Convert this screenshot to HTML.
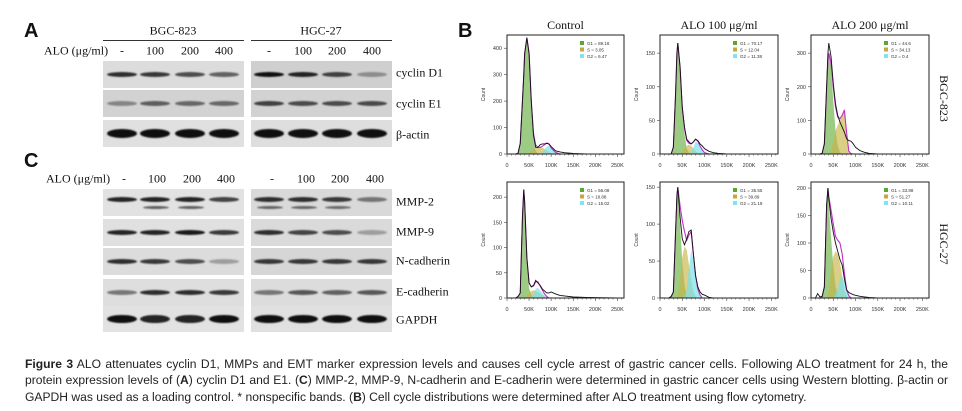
<!DOCTYPE html>
<html><head><meta charset="utf-8">
<style>
body{margin:0;background:#fff;width:962px;height:411px;overflow:hidden;position:relative;font-family:"Liberation Serif",serif;color:#111}
.abs{position:absolute}
.lbl{position:absolute;font-size:12px;white-space:nowrap;transform:translate(-50%,-50%)}
.rl{position:absolute;font-size:12px;white-space:nowrap;transform:translateY(-50%)}
.blot{position:absolute;overflow:hidden}
.band{position:absolute;border-radius:50%;filter:blur(0.8px)}
.pl{position:absolute;font-family:"Liberation Sans",sans-serif;font-weight:bold;font-size:20px}
#caption{position:absolute;left:25px;top:356px;width:923px;font-family:"Liberation Sans",sans-serif;font-size:12.1px;line-height:16.4px;text-align:justify;text-align-last:left;color:#222}
</style></head><body>
<div class="pl" style="left:24px;top:20px">A</div>
<div class="pl" style="left:24px;top:150px">C</div>
<div class="pl" style="left:458px;top:20px">B</div>

<div class="lbl" style="left:173px;top:31px">BGC-823</div>
<div class="lbl" style="left:321px;top:31px">HGC-27</div>
<div class="abs" style="left:103px;top:40px;width:141px;height:1px;background:#333"></div>
<div class="abs" style="left:251px;top:40px;width:141px;height:1px;background:#333"></div>

<div id="blots"></div>
<svg id="flow" width="962" height="411" style="position:absolute;left:0;top:0"></svg>

<div id="caption"><b>Figure 3</b> ALO attenuates cyclin D1, MMPs and EMT marker expression levels and causes cell cycle arrest of gastric cancer cells. Following ALO treatment for 24 h, the protein expression levels of (<b>A</b>) cyclin D1 and E1. (<b>C</b>) MMP-2, MMP-9, N-cadherin and E-cadherin were determined in gastric cancer cells using Western blotting. β-actin or GAPDH was used as a loading control. * nonspecific bands. (<b>B</b>) Cell cycle distributions were determined after ALO treatment using flow cytometry.</div>

<script>
// ---------- Western blot data ----------
const doses=["-","100","200","400"];
const blotNames=["cyclin D1","cyclin E1","β-actin","MMP-2","MMP-9","N-cadherin","E-cadherin","GAPDH"];
const blotTops=[61,90,120,189,219,248,279,306];
const bgcIntensity=[[0.85,0.8,0.7,0.6],[0.4,0.6,0.55,0.55],[1,1,1,1],[0.9,0.9,0.9,0.75],[0.9,0.9,0.95,0.8],[0.85,0.8,0.7,0.3],[0.5,0.85,0.85,0.8],[1,0.9,0.9,1]];
const hgcIntensity=[[1,0.9,0.75,0.35],[0.75,0.7,0.7,0.7],[1,1,1,1],[0.85,0.85,0.8,0.5],[0.85,0.75,0.7,0.3],[0.8,0.8,0.8,0.8],[0.5,0.65,0.6,0.65],[1,1,1,1]];
const blotBg=["#dcdcdc","#d2d2d2","#e0e0e0","#e2e2e2","#e0e0e0","#dcdcdc","#dedede","#e2e2e2"];
const hgcBg=["#cfcfcf","#d2d2d2","#dedede","#d9d9d9","#dadada","#d6d6d6","#dcdcdc","#e0e0e0"];
const labelY=[73,104,135,202,232,261,292,320];
const thick=[5,5,9,5,5,5,5,8];

const B=document.getElementById('blots');
function addText(txt,x,y,cls,name){
  const d=document.createElement('div');d.className=cls;d.textContent=txt;d.style.left=x+'px';d.style.top=y+'px';
  
  
  B.appendChild(d);
}
addText("ALO (μg/ml)",44,51,'rl','alo-dose-label-a');
addText("ALO (μg/ml)",46,179,'rl','alo-dose-label-c');
const bgcLanes=[122,155,190,224],hgcLanes=[269,303,337,372];
doses.forEach((d,i)=>{
  addText(d,bgcLanes[i],51,'lbl','dose-a-bgc-'+i);
  addText(d,hgcLanes[i],51,'lbl','dose-a-hgc-'+i);
  addText(d,bgcLanes[i]+2,179,'lbl','dose-c-bgc-'+i);
  addText(d,hgcLanes[i]+3,179,'lbl','dose-c-hgc-'+i);
});
blotNames.forEach((n,r)=>{
  addText(n,396,labelY[r],'rl','blot-label-'+n.replace(/[^a-zA-Z0-9]+/g,'-').toLowerCase());
  [[103,bgcIntensity,blotBg,bgcLanes],[251,hgcIntensity,hgcBg,hgcLanes]].forEach(([x0,I,bg,lanes],k)=>{
    const bl=document.createElement('div');bl.className='blot';
    bl.style.left=x0+'px';bl.style.top=blotTops[r]+'px';bl.style.width='141px';bl.style.height=(r==7?26:27)+'px';bl.style.background=bg[r];
    
    
    I[r].forEach((v,i)=>{
      const b=document.createElement('div');b.className='band';
      const w=30,h=thick[r];
      b.style.left=(lanes[i]-x0-w/2)+'px';b.style.top=(13-h/2+(r==3?-3:0))+'px';
      b.style.width=w+'px';b.style.height=h+'px';
      b.style.background='rgba(15,15,15,'+v+')';
      
      
      bl.appendChild(b);
      if(r==3&&i<3&&(k==1||i>0)){
        const b2=document.createElement('div');b2.className='band';
        b2.style.left=(lanes[i]-x0-12)+'px';b2.style.top='17px';b2.style.width='26px';b2.style.height='3px';
        b2.style.background='rgba(20,20,20,'+(v*0.7)+')';
        
        
        bl.appendChild(b2);
      }
    });
    B.appendChild(bl);
  });
});

// ---------- Flow cytometry data ----------
const xK=[0,10,15,20,25,30,35,38,40,45,50,55,60,65,70,75,80,85,90,95,100,110,120,130,150,180,250];
const bgcCtrlTotal=[0,0,0,0,3,40,200,300,380,440,380,200,70,25,25,35,38,38,40,38,28,12,8,5,2,0,0];
const bgcCtrlG1=[0,0,0,0,3,40,200,300,380,440,380,190,60,12,2,0,0,0,0,0,0,0,0,0,0,0,0];
const bgcCtrlS=[0,0,0,0,0,0,0,0,0,0,2,10,18,22,24,25,24,20,14,8,3,0,0,0,0,0,0];
const bgcCtrlG2=[0,0,0,0,0,0,0,0,0,0,0,0,0,0,0,0,5,15,28,30,20,6,0,0,0,0,0];
const bgc100Total=[0,0,0,0,0,10,90,150,165,130,70,40,22,18,15,18,22,20,15,12,8,4,2,1,0,0,0];
const bgc100G1=[0,0,0,0,0,10,90,150,165,130,65,30,8,2,0,0,0,0,0,0,0,0,0,0,0,0,0];
const bgc100S=[0,0,0,0,0,0,0,0,0,0,3,8,12,14,12,8,4,2,0,0,0,0,0,0,0,0,0];
const bgc100G2=[0,0,0,0,0,0,0,0,0,0,0,0,0,0,3,10,18,17,12,6,2,0,0,0,0,0,0];
const bgc200Total=[0,0,0,0,2,30,200,300,330,290,210,150,115,95,80,65,45,40,38,30,20,10,5,2,0,0,0];
const bgc200G1=[0,0,0,0,2,30,190,280,300,260,160,70,25,5,0,0,0,0,0,0,0,0,0,0,0,0,0];
const bgc200S=[0,0,0,0,0,0,0,0,0,10,40,70,85,100,115,130,60,5,0,0,0,0,0,0,0,0,0];
const bgc200G2=[0,0,0,0,0,0,0,0,0,0,0,0,0,0,0,1,3,3,1,0,0,0,0,0,0,0,0];
const hgcCtrlTotal=[0,0,0,0,3,10,160,215,190,80,30,22,25,35,30,25,18,14,10,10,12,8,5,4,2,1,0];
const hgcCtrlG1=[0,0,0,0,3,10,160,215,190,75,20,6,1,0,0,0,0,0,0,0,0,0,0,0,0,0,0];
const hgcCtrlS=[0,0,0,0,0,0,0,0,0,4,10,14,15,14,12,9,6,3,1,0,0,0,0,0,0,0,0];
const hgcCtrlG2=[0,0,0,0,0,0,0,0,0,0,0,2,8,18,20,15,10,5,2,0,0,0,0,0,0,0,0];
const hgc100Total=[0,0,0,0,2,8,90,140,150,110,80,72,80,90,92,60,30,15,8,5,4,1,0,0,0,0,0];
const hgc100G1=[0,0,0,0,2,8,90,135,145,100,50,18,3,0,0,0,0,0,0,0,0,0,0,0,0,0,0];
const hgc100S=[0,0,0,0,0,0,0,0,5,25,55,70,65,45,25,8,2,0,0,0,0,0,0,0,0,0,0];
const hgc100G2=[0,0,0,0,0,0,0,0,0,0,0,2,10,40,65,50,28,12,4,0,0,0,0,0,0,0,0];
const hgc200Total=[0,0,8,2,3,20,170,200,180,145,120,100,85,70,60,35,15,10,8,6,5,3,2,1,0,0,0];
const hgc200G1=[0,0,0,0,2,20,160,195,170,110,60,22,5,0,0,0,0,0,0,0,0,0,0,0,0,0,0];
const hgc200S=[0,0,0,0,0,0,0,5,15,50,75,85,80,65,40,15,3,0,0,0,0,0,0,0,0,0,0];
const hgc200G2=[0,0,0,0,0,0,0,0,0,0,0,5,20,35,40,30,12,4,0,0,0,0,0,0,0,0,0];
const legendG1=["89.18","70.17","44.6","56.08","35.55","33.88"];
const legendS=["3.05","12.04","34.13","18.88","39.89","51.27"];
const legendG2=["6.47","11.38","0.4","15.02","21.19","10.11"];
const yMaxes=[450,177,354,230,157,211];
const yTicks=[[0,100,200,300,400],[0,50,100,150],[0,100,200,300],[0,50,100,150,200],[0,50,100,150],[0,50,100,150,200]];
const xTicks=[0,50,100,150,200,250];
const xTickLabels=["0","50K","100K","150K","200K","250K"];
const colTitles=["Control","ALO 100 μg/ml","ALO 200 μg/ml"];
const rowTitles=["BGC-823","HGC-27"];

const plots=[
 [bgcCtrlTotal,bgcCtrlG1,bgcCtrlS,bgcCtrlG2],[bgc100Total,bgc100G1,bgc100S,bgc100G2],[bgc200Total,bgc200G1,bgc200S,bgc200G2],
 [hgcCtrlTotal,hgcCtrlG1,hgcCtrlS,hgcCtrlG2],[hgc100Total,hgc100G1,hgc100S,hgc100G2],[hgc200Total,hgc200G1,hgc200S,hgc200G2]];
const colX=[[507,624],[660,778],[811,929]];
const rowY=[[35,154],[182,298]];
const NS='http://www.w3.org/2000/svg';
const svg=document.getElementById('flow');
function el(tag,attrs,parent){const e=document.createElementNS(NS,tag);for(const k in attrs)e.setAttribute(k,attrs[k]);(parent||svg).appendChild(e);return e;}

colTitles.forEach((t,i)=>{
  const tx=el('text',{x:(colX[i][0]+colX[i][1])/2,y:29,'text-anchor':'middle','font-family':'Liberation Serif, serif','font-size':12,fill:'#111'});
  tx.textContent=t;
  
  
});
rowTitles.forEach((t,i)=>{
  const cy=(rowY[i][0]+rowY[i][1])/2+4;
  const tx=el('text',{x:940,y:cy,'text-anchor':'middle','font-family':'Liberation Serif, serif','font-size':12,fill:'#111',transform:'rotate(90 940 '+cy+')'});
  tx.textContent=t;
  
  
});

const XMAX=265;
plots.forEach((p,idx)=>{
  const [x0,x1]=colX[idx%3],[y0,y1]=rowY[Math.floor(idx/3)];
  const g=el('g',{});
  
  
  const sx=v=>x0+v/XMAX*(x1-x0);
  const sy=v=>y1-v/yMaxes[idx]*(y1-y0);
  const areaPath=arr=>{let d='M'+sx(xK[0])+','+sy(0);xK.forEach((x,i)=>d+=' L'+sx(x)+','+sy(Math.min(arr[i],yMaxes[idx])));return d+' L'+sx(xK[xK.length-1])+','+sy(0)+' Z';};
  const linePath=arr=>{let d='';xK.forEach((x,i)=>d+=(i?' L':'M')+sx(x)+','+sy(Math.min(arr[i],yMaxes[idx])));return d;};
  const fills=[[p[1],'rgba(90,170,50,0.6)','g1-area'],[p[2],'rgba(200,180,70,0.65)','s-area'],[p[3],'rgba(120,225,235,0.7)','g2-area']];
  fills.forEach(([a,c,n])=>{
    const e=el('path',{d:areaPath(a),fill:c,stroke:'none'},g);
    
    
  });
  const fit=xK.map((_,i)=>p[1][i]+p[2][i]+p[3][i]);
  const m=el('path',{d:linePath(fit),fill:'none',stroke:'#c030c8','stroke-width':1.1},g);
  
  
  const t=el('path',{d:linePath(p[0]),fill:'none',stroke:'#111','stroke-width':0.9},g);
  
  
  const box=el('rect',{x:x0,y:y0,width:x1-x0,height:y1-y0,fill:'none',stroke:'#222','stroke-width':1},g);
  
  
  for(let k=0;k<=XMAX;k+=10){el('line',{x1:sx(k),x2:sx(k),y1:y1,y2:y1+(k%50?1.5:3),stroke:'#444','stroke-width':0.6},g);}
  xTicks.forEach((v,i)=>{
    const tx=el('text',{x:sx(v),y:y1+13,'text-anchor':'middle','font-family':'Liberation Sans, sans-serif','font-size':5.5,fill:'#333'},g);
    tx.textContent=xTickLabels[i];
    
    
  });
  yTicks[idx].forEach(v=>{
    el('line',{x1:x0-3,x2:x0,y1:sy(v),y2:sy(v),stroke:'#444','stroke-width':0.6},g);
    const tx=el('text',{x:x0-5,y:sy(v)+2,'text-anchor':'end','font-family':'Liberation Sans, sans-serif','font-size':5.5,fill:'#333'},g);
    tx.textContent=v;
    
    
  });
  const cy=(y0+y1)/2;
  const yl=el('text',{x:x0-22,y:cy,'text-anchor':'middle','font-family':'Liberation Sans, sans-serif','font-size':5,fill:'#333',transform:'rotate(-90 '+(x0-22)+' '+cy+')'},g);
  yl.textContent='Count';
  
  
  const lx=x0+73,ly=y0+6;
  [['G1',legendG1[idx],'#5aa832'],['S',legendS[idx],'#c0aa40'],['G2',legendG2[idx],'#80e4f0']].forEach((r,i)=>{
    el('rect',{x:lx,y:ly+i*6.5,width:4,height:4,fill:r[2]},g);
    const tx=el('text',{x:lx+7,y:ly+i*6.5+3.8,'font-family':'Liberation Sans, sans-serif','font-size':4.5,fill:'#333'},g);
    tx.textContent=r[0]+' = '+r[1];
    
    
  });
});
</script>
</body></html>
